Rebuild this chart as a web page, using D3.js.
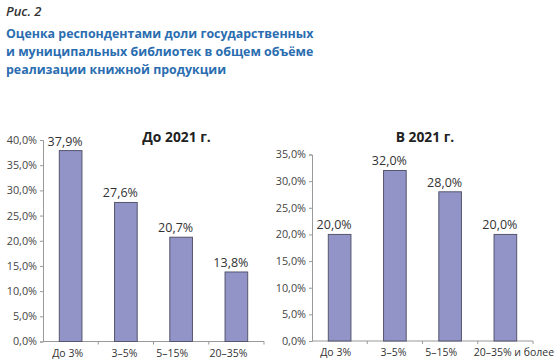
<!DOCTYPE html>
<html><head><meta charset="utf-8">
<script src="https://cdn.jsdelivr.net/npm/d3@7"></script>
<style>
body{margin:0;background:#fff;}
svg{display:block;font-family:"Open Sans",sans-serif;}
</style></head>
<body><svg id="c" width="560" height="362"></svg>
<script>
const figLabel = "Рис. 2";
const titleLines = ["Оценка респондентами доли государственных","и муниципальных библиотек в общем объёме","реализации книжной продукции"];
const leftTitle = "До 2021 г.";
const leftCats = ["До 3%","3–5%","5–15%","20–35%"];
const leftVals = [37.9,27.6,20.7,13.8];
const leftTicks = [0,5,10,15,20,25,30,35,40];
const rightTitle = "В 2021 г.";
const rightCats = ["До 3%","3–5%","5–15%","20–35% и более"];
const rightVals = [20.0,32.0,28.0,20.0];
const rightTicks = [0,5,10,15,20,25,30,35];

const svg = d3.select("#c");
const fmt = v => d3.format(".1f")(v).replace(".", ",") + "%";

svg.append("text").attr("x",6).attr("y",16).attr("font-size",13).attr("font-style","italic").attr("font-weight",600).attr("fill","#333").text(figLabel);
svg.selectAll("text.tl").data(titleLines).enter().append("text").attr("class","tl")
  .attr("x",6).attr("y",(d,i)=>38+i*18).attr("font-size",12.4).attr("font-weight",700).attr("fill","#2a6db0").text(d=>d);

function chart(cfg){
  const y = d3.scaleLinear().domain([0,cfg.max]).range([cfg.y0,cfg.yTop]);
  const x = d3.scaleBand().domain(cfg.cats).range([cfg.x0,cfg.x1]).paddingInner(0.59).paddingOuter(0.295);
  const g = svg.append("g");
  const ya = g.append("g").attr("transform",`translate(${cfg.x0},0)`).call(d3.axisLeft(y).tickValues(cfg.ticks).tickSize(3).tickFormat(fmt));
  ya.select(".domain").attr("stroke","#999");
  ya.selectAll(".tick line").attr("stroke","#999");
  ya.selectAll(".tick text").attr("font-size",10.8).attr("fill","#444").attr("font-family","Open Sans, sans-serif").attr("x",-6);
  const xb = d3.scaleLinear().domain([0,cfg.cats.length]).range([cfg.x0,cfg.x1]);
  g.append("line").attr("x1",cfg.x0).attr("x2",cfg.x1).attr("y1",cfg.y0).attr("y2",cfg.y0).attr("stroke","#999");
  g.selectAll("line.xt").data(d3.range(1,cfg.cats.length+1)).enter().append("line").attr("class","xt")
    .attr("x1",d=>xb(d)).attr("x2",d=>xb(d)).attr("y1",cfg.y0).attr("y2",cfg.y0+3).attr("stroke","#999");
  g.selectAll("text.xl").data(cfg.cats).enter().append("text").attr("class","xl")
    .attr("x",(d,i)=>x(d)+x.bandwidth()/2+cfg.catDx[i]).attr("y",cfg.y0+15).attr("text-anchor","middle").attr("font-size",10.5).attr("fill","#333").text(d=>d);
  g.selectAll("rect").data(cfg.vals).enter().append("rect")
    .attr("x",(d,i)=>x(cfg.cats[i])).attr("width",x.bandwidth())
    .attr("y",d=>y(d)).attr("height",d=>cfg.y0-y(d))
    .attr("fill","#9294c8").attr("stroke","#55556e").attr("stroke-width",1);
  g.selectAll("text.vl").data(cfg.vals).enter().append("text").attr("class","vl")
    .attr("x",(d,i)=>x(cfg.cats[i])+x.bandwidth()/2-5.5).attr("y",d=>y(d)-5).attr("text-anchor","middle")
    .attr("font-size",12.5).attr("fill","#333").text(fmt);
  g.append("text").attr("x",cfg.tx).attr("y",cfg.ty).attr("text-anchor","middle").attr("font-size",13.8).attr("font-weight",700).attr("fill","#222").text(cfg.title);
}
chart({cats:leftCats,vals:leftVals,ticks:leftTicks,max:40,x0:43,x1:264,y0:341.5,yTop:140,title:leftTitle,tx:176.5,ty:142,catDx:[-3,-1.5,-9,-8]});
chart({cats:rightCats,vals:rightVals,ticks:rightTicks,max:35,x0:312,x1:533,y0:341,yTop:154.5,title:rightTitle,tx:425,ty:142,catDx:[-4,-1.5,-9,8.5]});
</script></body></html>
